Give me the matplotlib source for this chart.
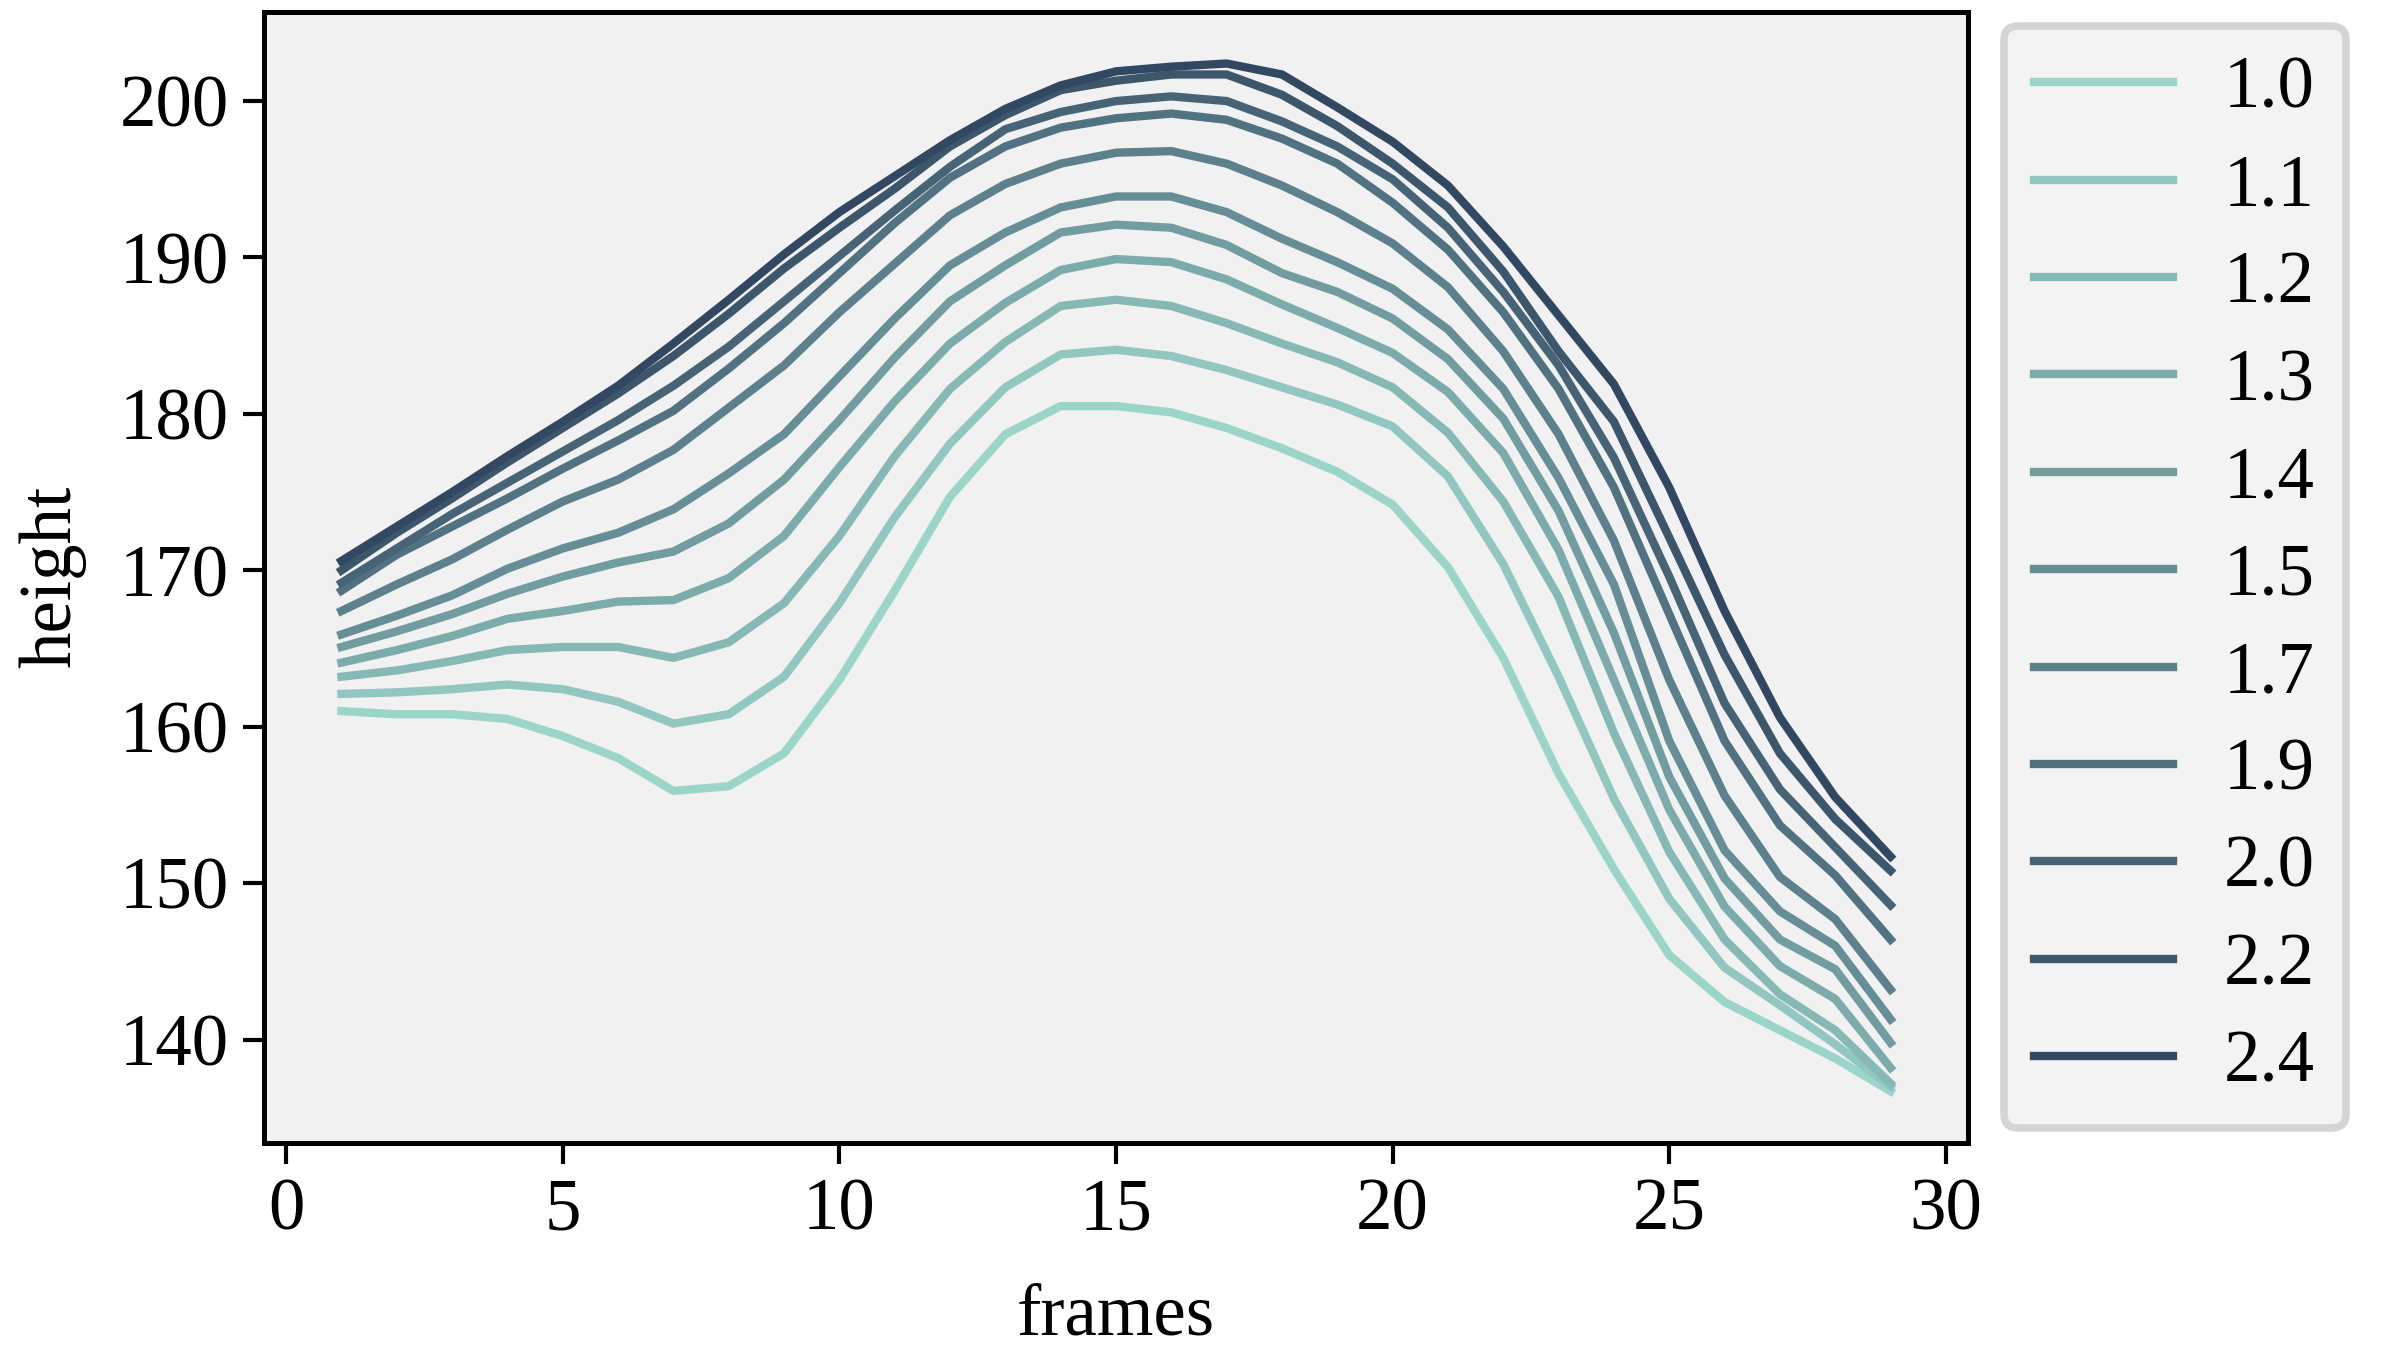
import matplotlib

matplotlib.use("Agg")
import matplotlib.pyplot as plt
from matplotlib.colors import LinearSegmentedColormap

# frame index shared by every series
frames = list(range(1, 30))

# legend labels (scale factor), light -> dark
labels = ["1.0", "1.1", "1.2", "1.3", "1.4", "1.5", "1.7", "1.9", "2.0", "2.2", "2.4"]

h_10 = [161.0, 160.8, 160.8, 160.5, 159.4, 158.0, 155.9, 156.2, 158.3, 163.0,
        168.7, 174.7, 178.7, 180.5, 180.5, 180.1, 179.1, 177.8, 176.3, 174.2,
        170.2, 164.4, 157.0, 150.9, 145.4, 142.4, 140.6, 138.8, 136.7]
h_11 = [162.1, 162.2, 162.4, 162.7, 162.4, 161.6, 160.2, 160.8, 163.2, 167.9,
        173.4, 178.1, 181.7, 183.8, 184.1, 183.7, 182.8, 181.7, 180.6, 179.2,
        176.0, 170.4, 163.2, 155.4, 149.0, 144.6, 142.2, 139.7, 137.0]
h_12 = [163.2, 163.6, 164.2, 164.9, 165.1, 165.1, 164.4, 165.4, 167.9, 172.2,
        177.3, 181.6, 184.6, 186.9, 187.3, 186.9, 185.8, 184.5, 183.3, 181.7,
        178.8, 174.4, 168.3, 159.6, 152.0, 146.4, 142.9, 140.6, 137.2]
h_13 = [164.1, 164.9, 165.8, 166.9, 167.4, 168.0, 168.1, 169.5, 172.2, 176.6,
        180.8, 184.5, 187.1, 189.2, 189.9, 189.7, 188.6, 187.0, 185.5, 183.9,
        181.4, 177.5, 171.3, 163.0, 154.7, 148.5, 144.7, 142.6, 138.2]
h_14 = [165.1, 166.1, 167.2, 168.5, 169.6, 170.5, 171.2, 173.0, 175.8, 179.6,
        183.6, 187.2, 189.5, 191.6, 192.1, 191.9, 190.8, 189.0, 187.8, 186.1,
        183.5, 179.7, 173.8, 166.0, 156.8, 150.3, 146.4, 144.5, 139.8]
h_15 = [165.9, 167.1, 168.4, 170.1, 171.4, 172.4, 173.9, 176.2, 178.7, 182.4,
        186.1, 189.5, 191.6, 193.2, 193.9, 193.9, 192.9, 191.2, 189.7, 188.0,
        185.4, 181.6, 175.9, 169.1, 159.1, 152.1, 148.2, 146.0, 141.3]
h_17 = [167.4, 169.1, 170.7, 172.6, 174.4, 175.8, 177.7, 180.4, 183.1, 186.5,
        189.6, 192.7, 194.7, 196.0, 196.7, 196.8, 196.0, 194.6, 192.9, 190.9,
        188.1, 184.0, 178.7, 171.9, 163.0, 155.6, 150.4, 147.7, 143.2]
h_19 = [168.7, 171.0, 172.8, 174.6, 176.5, 178.3, 180.2, 182.9, 185.8, 189.0,
        192.2, 195.1, 197.1, 198.3, 198.9, 199.2, 198.8, 197.6, 196.0, 193.5,
        190.5, 186.5, 181.6, 175.3, 167.2, 159.1, 153.7, 150.5, 146.4]
h_20 = [169.2, 171.4, 173.6, 175.6, 177.6, 179.6, 181.8, 184.3, 187.2, 190.1,
        193.0, 195.8, 198.2, 199.3, 200.0, 200.3, 200.0, 198.7, 197.1, 195.0,
        191.9, 187.8, 183.1, 177.2, 169.6, 161.5, 156.0, 152.3, 148.6]
h_22 = [170.0, 172.4, 174.6, 176.9, 179.1, 181.3, 183.7, 186.4, 189.3, 191.9,
        194.4, 197.1, 199.1, 200.7, 201.3, 201.7, 201.7, 200.4, 198.4, 196.0,
        193.2, 189.1, 184.0, 179.5, 172.1, 164.6, 158.3, 154.1, 150.8]
h_24 = [170.6, 172.8, 175.0, 177.3, 179.5, 181.8, 184.5, 187.3, 190.2, 192.9,
        195.2, 197.5, 199.5, 201.0, 201.9, 202.2, 202.4, 201.7, 199.6, 197.4,
        194.6, 190.7, 186.3, 181.9, 175.3, 167.4, 160.6, 155.5, 151.7]

series = [h_10, h_11, h_12, h_13, h_14, h_15, h_17, h_19, h_20, h_22, h_24]

plt.rcParams["font.family"] = ["Liberation Serif", "DejaVu Serif"]
plt.rcParams["font.size"] = 17.5

cmap = LinearSegmentedColormap.from_list("teal_navy", ["#9bd5ca", "#324862"])
colors = [cmap(i / (len(series) - 1)) for i in range(len(series))]

fig = plt.figure(figsize=(8, 1349 / 300), dpi=300)
ax = fig.add_axes([0.110, 0.153, 0.710, 0.838])
ax.set_facecolor("#f1f1f1")

for ys, lab, c in zip(series, labels, colors):
    ax.plot(frames, ys, color=c, linewidth=2.0, label=lab)

ax.set_xlabel("frames", labelpad=9)
ax.set_ylabel("height", labelpad=8)
ax.set_xticks([0, 5, 10, 15, 20, 25, 30])
ax.set_yticks([140, 150, 160, 170, 180, 190, 200])
ax.tick_params(direction="out", length=5, width=1.0)
for sp in ax.spines.values():
    sp.set_linewidth(1.2)
    sp.set_color("black")

leg = ax.legend(loc="upper left", bbox_to_anchor=(1.021, 0.988), borderaxespad=0,
                frameon=True, fancybox=True, handlelength=1.9, handletextpad=0.7,
                labelspacing=0.41, borderpad=0.42)
leg.get_frame().set_facecolor("#f3f3f3")
leg.get_frame().set_edgecolor("#d4d4d4")
leg.get_frame().set_linewidth(1.8)
leg.get_frame().set_alpha(1.0)

fig.savefig("out.png", dpi=300)
